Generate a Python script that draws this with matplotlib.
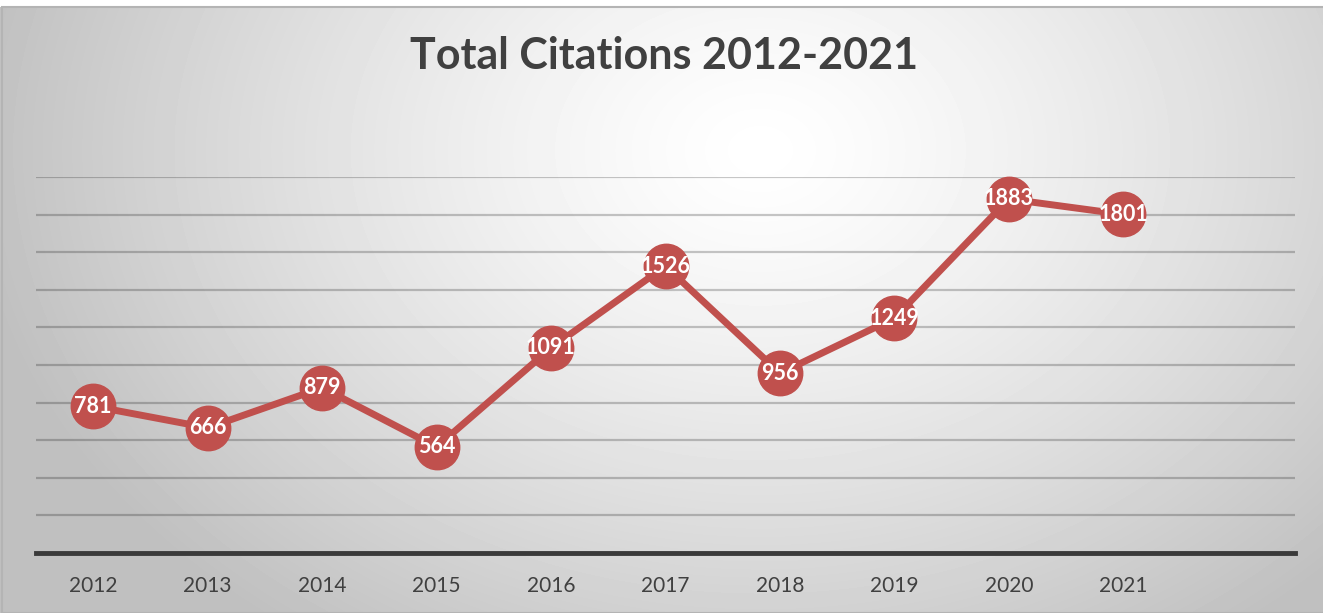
import numpy as np
import matplotlib.pyplot as plt
from matplotlib.patches import Rectangle

years = ["2012", "2013", "2014", "2015", "2016", "2017", "2018", "2019", "2020", "2021"]
citations = [781, 666, 879, 564, 1091, 1526, 956, 1249, 1883, 1801]
title = "Total Citations 2012-2021"

W, H = 1323, 613
fig = plt.figure(figsize=(W / 100, H / 100), dpi=100)

# radial grey gradient behind the chart
yy, xx = np.mgrid[0:H, 0:W]
d = np.sqrt(((xx - 760) / 820.0) ** 2 + ((yy - 150) / 620.0) ** 2)
shade = np.clip(1.0 - 0.26 * d ** 1.3, 0.75, 1.0)
shade[:7, :] = 1.0
bg = fig.add_axes([0, 0, 1, 1], zorder=-10)
bg.imshow(shade, cmap="gray", vmin=0, vmax=1, aspect="auto", interpolation="bilinear")
bg.axis("off")
fig.add_artist(Rectangle((2 / W, 0), 1.5, (H - 6.5) / H, transform=fig.transFigure,
                         fill=False, edgecolor="#b4b4b4", linewidth=1.5))

left, right, y0, y2000 = 36, 1295, 553, 177
ax = fig.add_axes([left / W, (H - y0) / H, (right - left) / W, (y0 - y2000) / H])
ax.patch.set_alpha(0)
x = np.arange(len(years))
ax.set_xlim(-0.5, len(years) + 0.5)
ax.set_ylim(0, 2000)
ax.set_yticks(np.arange(0, 2001, 200))
ax.yaxis.grid(True, color="black", alpha=0.22, linewidth=1.6)
ax.set_axisbelow(True)
for s in ["top", "right", "left"]:
    ax.spines[s].set_visible(False)
ax.spines["bottom"].set_color("#3a3a3a")
ax.spines["bottom"].set_linewidth(3.5)
ax.tick_params(axis="y", left=False, labelleft=False)
ax.tick_params(axis="x", bottom=False, pad=13, labelsize=15, labelcolor="#404040")
ax.set_xticks(x)
ax.set_xticklabels(years, family="Lato")

ax.plot(x, citations, color="#C0504D", linewidth=5, marker="o", markersize=32,
        solid_capstyle="round", clip_on=False, zorder=3)
for xi, v in zip(x, citations):
    ax.text(xi, v, str(v), ha="center", va="center", color="white", fontsize=15.5,
            fontweight="bold", family="Lato", zorder=4)

fig.text(664 / W, 1 - 56 / H, title, ha="center", va="center", fontsize=31,
         fontweight="bold", color="#404040", family="Lato")

fig.savefig("out.png", dpi=100)
